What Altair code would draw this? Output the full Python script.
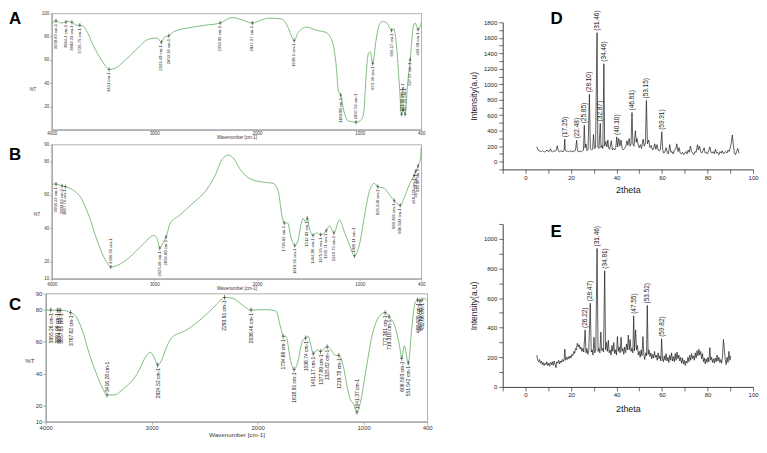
import altair as alt
import pandas as pd

# ---------------- FTIR spectra (wavenumber cm-1, %T) ----------------
A_SPECTRUM = [(4000, 91.7), (3958, 93.6), (3910, 91.7), (3861, 92.6), (3829, 93.1), (3796, 92.0),
              (3758, 89.8), (3726, 89.8), (3693, 89.0), (3651, 83.5), (3603, 73.8), (3554, 65.5),
              (3506, 58.7), (3441, 51.8), (3377, 53.1), (3280, 60.1), (3183, 68.3), (3053, 77.9),
              (2973, 78.8), (2931, 75.2), (2898, 79.9), (2859, 80.7), (2811, 84.3), (2666, 87.6),
              (2505, 89.8), (2359, 91.7), (2246, 96.4), (2149, 94.5), (2045, 91.7), (1955, 94.5),
              (1890, 95.9), (1761, 95.3), (1703, 89.0), (1665, 80.7), (1638, 76.6), (1600, 83.5),
              (1519, 88.2), (1422, 85.5), (1325, 83.5), (1260, 73.8), (1228, 54.5), (1206, 32.5),
              (1185, 29.8), (1154, 16.0), (1115, 7.7), (1035, 6.4), (980, 9.0), (960, 15.0),
              (945, 35.0), (930, 55.0), (915, 65.5), (896, 66.9), (873, 56.8), (841, 76.6),
              (809, 90.3), (776, 93.1), (734, 91.7), (689, 85.4), (669, 87.1), (637, 68.3),
              (611, 35.3), (592, 13.2), (576, 17.4), (557, 13.2), (534, 38.0), (508, 60.1),
              (479, 87.6), (460, 91.7), (431, 86.2), (400, 91.7)]
A_PEAK_WN = [3958, 3861, 3803, 3726, 3441, 2931, 2859, 2359, 2045, 1638, 1185, 1035, 873, 689, 592, 576, 557, 508, 431]
A_PEAK_T = [93.6, 92.6, 92.3, 89.8, 51.8, 75.2, 80.7, 91.7, 91.7, 76.6, 29.8, 6.4, 56.8, 85.4, 13.2, 17.4, 13.2, 60.1, 86.2]
A_PEAK_LABEL = ["3958.83 cm-1", "3864.4 cm-1", "3803.33 cm-1", "3726.75 cm-1", "3441 cm-1", "2923.40 cm-1",
                "2853.36 cm-1", "2359.09 cm-1", "2047.97 cm-1", "1638.1 cm-1", "1180.00 cm-1", "1037.52 cm-1",
                "879.36 cm-1", "696.17 cm-1", "592.49 cm-1", "576.65 cm-1", "557.24 cm-1", "527.97 cm-1",
                "433.30 cm-1"]
A_PEAK_SIDE = ["b", "b", "b", "b", "b", "b", "b", "b", "b", "b", "b", "a", "b", "b", "a", "a", "a", "b", "b"]

B_SPECTRUM = [(4000, 66.4), (3958, 66.4), (3900, 65.3), (3867, 64.9), (3796, 63.0), (3716, 58.3),
              (3635, 47.0), (3554, 32.1), (3474, 20.8), (3425, 17.0), (3360, 17.9), (3247, 22.5),
              (3118, 30.0), (3005, 35.7), (2973, 33.8), (2947, 28.2), (2918, 31.0), (2886, 34.8),
              (2844, 43.2), (2762, 47.4), (2634, 54.5), (2505, 62.0), (2408, 71.5), (2343, 80.9),
              (2278, 83.7), (2229, 81.8), (2165, 75.3), (2069, 69.6), (1955, 67.7), (1842, 66.8),
              (1793, 62.0), (1755, 47.0), (1735, 43.2), (1703, 43.2), (1665, 33.8), (1632, 29.7),
              (1600, 32.9), (1568, 43.2), (1551, 46.0), (1529, 44.1), (1510, 46.0), (1487, 39.6),
              (1454, 35.8), (1422, 37.3), (1380, 36.2), (1325, 38.6), (1293, 41.4), (1251, 37.3),
              (1196, 45.0), (1148, 37.7), (1099, 30.2), (1051, 23.6), (1003, 30.2), (954, 47.0),
              (906, 62.0), (857, 66.8), (824, 64.9), (760, 63.9), (712, 60.2), (663, 56.5),
              (605, 53.7), (566, 58.3), (518, 65.8), (470, 71.5), (431, 77.2), (405, 82.8), (400, 88.0)]
B_PEAK_WN = [3958, 3900, 3867, 3425, 2947, 2886, 1735, 1632, 1510, 1454, 1380, 1325, 1251, 1051, 824, 663, 605, 470, 455, 431]
B_PEAK_T = [66.4, 65.3, 64.9, 17.0, 28.2, 34.8, 43.2, 29.7, 46.0, 35.8, 36.2, 38.6, 37.3, 23.6, 64.9, 56.5, 53.7, 71.5, 74.0, 77.2]
B_PEAK_LABEL = ["3958.43 cm-1", "3900.66 cm-1", "3867.76 cm-1", "3396.95 cm-1", "2925.48 cm-1", "2856.80 cm-1",
                "1736.82 cm-1", "1618.91 cm-1", "1512.03 cm-1", "1464.06 cm-1", "1375.95 cm-1", "1339.71 cm-1",
                "1246.75 cm-1", "1036.11 cm-1", "829.248 cm-1", "668.366 cm-1", "606.503 cm-1", "468.725 cm-1",
                "457.13 cm-1", "432.06 cm-1"]
B_PEAK_SIDE = ["b", "b", "b", "a", "b", "b", "b", "b", "b", "b", "b", "b", "b", "a", "b", "b", "b", "b", "b", "b"]

C_SPECTRUM = [(4000, 79.7), (3953, 79.7), (3875, 79.5), (3844, 79.5), (3766, 78.1), (3719, 76.1),
              (3656, 67.2), (3594, 53.4), (3531, 41.5), (3469, 31.7), (3422, 26.7), (3359, 26.7),
              (3266, 30.6), (3141, 39.5), (3047, 51.4), (3016, 53.3), (2978, 50.4), (2944, 45.4),
              (2906, 48.4), (2884, 52.4), (2812, 62.3), (2672, 67.2), (2516, 75.1), (2391, 83.0),
              (2313, 87.6), (2234, 87.0), (2156, 83.4), (2062, 79.7), (1922, 79.9), (1828, 79.1),
              (1781, 68.2), (1759, 63.3), (1734, 63.3), (1687, 47.5), (1656, 42.6), (1625, 46.5),
              (1578, 60.3), (1547, 62.3), (1522, 63.3), (1500, 58.3), (1475, 52.4), (1438, 54.9),
              (1406, 53.8), (1375, 55.7), (1344, 56.7), (1313, 55.3), (1266, 51.4), (1234, 51.4),
              (1188, 43.5), (1156, 31.7), (1125, 23.8), (1094, 20.9), (1063, 15.9), (1031, 21.8),
              (984, 39.6), (922, 63.3), (859, 75.1), (797, 78.1), (759, 75.5), (703, 69.3),
              (656, 55.3), (641, 49.5), (616, 57.4), (578, 46.6), (547, 67.3), (515, 84.1),
              (491, 86.0), (460, 85.0), (430, 87.0), (400, 85.5)]
C_PEAK_WN = [3953, 3890, 3875, 3860, 3766, 3422, 2944, 2313, 2062, 1759, 1656, 1547, 1475, 1406, 1344, 1234,
             1063, 797, 759, 641, 578, 491, 470, 450]
C_PEAK_T = [79.7, 79.6, 79.5, 79.5, 78.1, 26.7, 45.4, 87.6, 79.7, 63.3, 42.6, 62.3, 52.4, 53.8, 56.7, 51.4,
            15.9, 78.1, 75.5, 49.5, 46.6, 86.0, 85.5, 86.0]
C_PEAK_LABEL = ["3955.26 cm-1", "3891.06 cm-1", "3874.27 cm-1", "3857.55 cm-1", "3767.62 cm-1", "3416.28 cm-1",
                "2924.52 cm-1", "2293.91 cm-1", "2036.46 cm-1", "1734.66 cm-1", "1618.91 cm-1", "1536.74 cm-1",
                "1451.17 cm-1", "1377.89 cm-1", "1325.82 cm-1", "1219.78 cm-1", "1041.37 cm-1", "772.361 cm-1",
                "719.318 cm-1", "606.503 cm-1", "551.542 cm-1", "468.025 cm-1", "457.13 cm-1", "432.06 cm-1"]
C_PEAK_SIDE = ["b", "b", "b", "b", "b", "a", "b", "b", "b", "b", "b", "b", "b", "b", "b", "b",
               "a", "b", "b", "b", "b", "b", "b", "b"]

WN_TICKS = [4000, 3000, 2000, 1000, 400]

# ---------------- XRD patterns (2theta, intensity a.u.) ----------------
D_PATTERN = [(5.0, 190), (5.5, 150), (6.0, 140), (6.5, 135), (7.0, 128), (7.5, 142), (8.0, 130), (8.5, 125),
             (9.0, 138), (9.5, 150), (10.0, 128), (10.5, 135), (11.0, 165), (11.5, 130), (12.0, 126),
             (12.5, 140), (13.0, 132), (13.5, 145), (14.0, 205), (14.5, 135), (15.0, 128), (15.5, 140),
             (16.0, 133), (16.5, 125), (17.0, 150), (17.25, 290), (17.5, 150), (18.0, 130), (18.5, 138),
             (19.0, 127), (19.5, 143), (20.0, 132), (20.5, 125), (21.0, 140), (21.5, 131), (22.0, 150),
             (22.48, 275), (22.8, 160), (23.0, 135), (23.5, 128), (24.0, 140), (24.5, 126), (25.0, 135),
             (25.5, 150), (25.85, 470), (26.2, 180), (26.6, 230), (27.0, 140), (27.5, 155), (28.1, 870),
             (28.5, 170), (29.0, 150), (29.5, 160), (29.9, 350), (30.3, 170), (30.8, 180), (31.46, 1665),
             (31.8, 190), (32.3, 170), (32.87, 495), (33.2, 180), (33.6, 210), (34.0, 170), (34.46, 1265),
             (34.8, 200), (35.3, 260), (35.8, 190), (36.2, 280), (36.6, 170), (37.0, 160), (37.7, 270),
             (38.2, 150), (38.7, 170), (39.2, 150), (39.7, 180), (40.1, 320), (40.5, 190), (41.0, 300),
             (41.5, 200), (42.0, 280), (42.5, 170), (43.0, 150), (43.5, 170), (44.0, 190), (44.6, 270),
             (45.0, 210), (45.6, 300), (46.0, 200), (46.4, 230), (46.81, 635), (47.2, 230), (47.7, 200),
             (48.3, 400), (48.7, 250), (49.0, 300), (49.5, 220), (50.0, 180), (50.5, 220), (51.0, 170),
             (51.7, 290), (52.2, 200), (52.7, 240), (53.15, 790), (53.6, 230), (54.2, 280), (54.7, 180),
             (55.3, 210), (55.8, 150), (56.3, 170), (56.8, 230), (57.3, 160), (57.8, 220), (58.3, 150),
             (58.8, 140), (59.3, 160), (59.91, 385), (60.3, 150), (60.8, 110), (61.3, 130), (61.8, 180),
             (62.3, 120), (62.8, 100), (63.4, 220), (63.9, 120), (64.4, 130), (64.9, 100), (65.4, 150),
             (66.0, 160), (66.5, 230), (67.0, 130), (67.5, 180), (68.0, 110), (68.5, 100), (69.0, 120),
             (69.5, 90), (70.0, 110), (70.5, 130), (71.0, 100), (71.5, 150), (72.0, 120), (72.5, 200),
             (73.0, 130), (73.5, 110), (74.0, 90), (74.5, 130), (75.0, 120), (75.6, 220), (76.0, 150),
             (76.5, 200), (77.0, 130), (77.5, 110), (78.0, 140), (78.5, 180), (79.0, 110), (79.5, 120),
             (80.0, 100), (80.5, 140), (81.0, 190), (81.5, 120), (82.0, 110), (82.5, 130), (83.0, 100),
             (83.5, 160), (84.0, 110), (84.5, 120), (85.0, 90), (85.5, 130), (86.0, 110), (86.5, 140),
             (87.0, 100), (87.5, 120), (88.0, 130), (88.5, 110), (89.0, 150), (89.5, 130), (90.0, 180),
             (90.5, 250), (90.9, 345), (91.3, 230), (91.8, 110), (92.3, 90), (92.8, 130), (93.3, 170),
             (93.8, 110)]
D_PEAK_TT = [17.25, 22.48, 25.85, 28.10, 31.46, 32.87, 34.46, 40.10, 46.81, 53.15, 59.91]
D_PEAK_I = [290, 275, 470, 870, 1665, 495, 1265, 320, 635, 790, 385]
D_PEAK_LABEL = ["(17.25)", "(22.48)", "(25.85)", "(28.10)", "(31.46)", "(32.87)", "(34.46)", "(40.10)",
                "(46.81)", "(53.15)", "(59.91)"]

E_PATTERN = [(5.0, 215), (5.4, 180), (5.8, 170), (6.2, 185), (6.6, 160), (7.0, 175), (7.4, 150), (7.8, 165),
             (8.2, 145), (8.6, 160), (9.0, 150), (9.4, 170), (9.8, 145), (10.2, 160), (10.6, 140), (11.0, 165),
             (11.4, 150), (11.8, 170), (12.2, 145), (12.6, 175), (13.0, 155), (13.4, 130), (13.8, 170),
             (14.2, 160), (14.6, 180), (15.0, 155), (15.4, 175), (15.8, 165), (16.2, 185), (16.6, 170),
             (17.0, 190), (17.3, 255), (17.6, 180), (18.0, 200), (18.4, 185), (18.8, 205), (19.2, 190),
             (19.6, 210), (20.0, 195), (20.4, 220), (20.8, 210), (21.2, 240), (21.6, 225), (22.0, 260),
             (22.4, 250), (22.8, 295), (23.2, 270), (23.6, 285), (24.0, 255), (24.4, 270), (24.8, 240),
             (25.2, 260), (25.6, 235), (26.22, 385), (26.6, 230), (27.0, 260), (27.4, 220), (27.8, 245),
             (28.47, 565), (28.9, 235), (29.3, 250), (29.7, 215), (30.1, 335), (30.5, 230), (30.9, 250),
             (31.46, 935), (31.9, 240), (32.3, 260), (32.7, 230), (33.1, 370), (33.5, 245), (33.9, 260),
             (34.3, 235), (34.81, 785), (35.2, 250), (35.6, 300), (36.0, 240), (36.4, 315), (36.8, 230),
             (37.2, 250), (37.6, 215), (38.0, 280), (38.4, 240), (38.8, 300), (39.2, 225), (39.6, 250),
             (40.0, 215), (40.4, 340), (40.8, 240), (41.2, 270), (41.6, 230), (42.0, 335), (42.4, 240),
             (42.8, 260), (43.2, 220), (43.6, 270), (44.0, 230), (44.4, 290), (44.8, 250), (45.2, 350),
             (45.6, 250), (46.0, 320), (46.4, 240), (46.8, 260), (47.2, 230), (47.55, 480), (47.9, 245),
             (48.4, 385), (48.8, 250), (49.2, 280), (49.6, 215), (50.0, 240), (50.4, 200), (50.8, 250),
             (51.2, 210), (51.6, 340), (52.0, 220), (52.4, 185), (52.8, 230), (53.2, 210), (53.52, 550),
             (53.9, 220), (54.3, 250), (54.7, 205), (55.1, 230), (55.5, 190), (55.9, 220), (56.3, 195),
             (56.7, 240), (57.1, 200), (57.5, 215), (57.9, 180), (58.3, 230), (58.7, 190), (59.1, 210),
             (59.5, 175), (59.82, 325), (60.2, 190), (60.6, 170), (61.0, 210), (61.4, 180), (61.8, 225),
             (62.2, 175), (62.6, 200), (63.0, 165), (63.4, 215), (63.8, 180), (64.2, 230), (64.6, 175),
             (65.0, 205), (65.4, 170), (65.8, 225), (66.2, 180), (66.6, 235), (67.0, 190), (67.4, 215),
             (67.8, 175), (68.2, 200), (68.6, 160), (69.0, 195), (69.4, 155), (69.8, 180), (70.2, 145),
             (70.6, 175), (71.0, 160), (71.4, 200), (71.8, 170), (72.2, 215), (72.6, 180), (73.0, 225),
             (73.4, 190), (73.8, 210), (74.2, 180), (74.6, 230), (75.0, 195), (75.4, 245), (75.8, 210),
             (76.2, 255), (76.6, 215), (77.0, 240), (77.4, 190), (77.8, 225), (78.2, 170), (78.6, 195),
             (79.0, 155), (79.4, 190), (79.8, 165), (80.2, 200), (80.6, 170), (81.0, 265), (81.4, 180),
             (81.8, 200), (82.2, 165), (82.6, 190), (83.0, 160), (83.4, 195), (83.8, 170), (84.2, 215),
             (84.6, 175), (85.0, 200), (85.4, 165), (85.8, 185), (86.2, 160), (86.6, 210), (87.0, 320),
             (87.4, 250), (87.8, 185), (88.2, 150), (88.6, 200), (89.0, 165), (89.4, 240), (89.8, 180),
             (90.2, 210)]
E_PEAK_TT = [26.22, 28.47, 31.46, 34.81, 47.55, 53.52, 59.82]
E_PEAK_I = [385, 565, 935, 785, 480, 550, 325]
E_PEAK_LABEL = ["(26.22)", "(28.47)", "(31.46)", "(34.81)", "(47.55)", "(53.52)", "(59.82)"]

FONT = "Liberation Sans"
GREEN = "#5fae5f"
AXGRAY = "#8a8a8a"
TXT = "#3a3a3a"
PLUS = "M0,-1L0,1M-0.6,0L0.6,0"


def letter_layer(ch, x, y):
    return alt.Chart(pd.DataFrame({"k": [ch]})).mark_text(
        align="left", baseline="alphabetic", fontSize=17, fontWeight="bold", font=FONT, color="black"
    ).encode(x=alt.value(x), y=alt.value(y), text="k:N")


def ftir_panel(letter, spectrum, pk_wn, pk_t, pk_lab, pk_side, ydom, yvals, width, height,
               fs_tick, fs_title, fs_peak, tsize, lpad, x_title_y, pct_x, pct_y, let_x, let_y, msize):
    df = pd.DataFrame({"wn": [p[0] for p in spectrum], "T": [p[1] for p in spectrum],
                       "i": list(range(len(spectrum)))})
    pk = pd.DataFrame({"wn": pk_wn, "T": pk_t, "lab": pk_lab, "side": pk_side})
    xs = alt.Scale(domain=[4000, 400], nice=False, zero=False)
    ys = alt.Scale(domain=ydom, nice=False, zero=False)
    xax = alt.Axis(values=WN_TICKS, format="d", title="Wavenumber [cm-1]", labelFontSize=fs_tick,
                   titleFontSize=fs_title, titleFontWeight="normal", tickSize=tsize, labelPadding=lpad,
                   labelFlush=False, labelOverlap=False, grid=False, domainColor=AXGRAY, tickColor=AXGRAY,
                   labelColor=TXT, titleColor=TXT, titleY=x_title_y, titleBaseline="middle",
                   tickWidth=0.6, domainWidth=0.8, labelFont=FONT, titleFont=FONT)
    yax = alt.Axis(values=yvals, format="d", title="%T", titleAngle=0, titleX=pct_x, titleY=pct_y,
                   titleAlign="center", titleBaseline="middle", titleFontSize=fs_title,
                   titleFontWeight="normal", labelFontSize=fs_tick, tickSize=max(tsize, 2), labelPadding=1,
                   labelFlush=False, labelOverlap=False, grid=False, domainColor=AXGRAY, tickColor=AXGRAY,
                   labelColor=TXT, titleColor=TXT, tickWidth=0.6, domainWidth=0.8,
                   labelFont=FONT, titleFont=FONT)
    x = alt.X("wn:Q", scale=xs, axis=xax)
    y = alt.Y("T:Q", scale=ys, axis=yax)
    line = alt.Chart(df).mark_line(color=GREEN, strokeWidth=0.8, interpolate="monotone").encode(
        x=x, y=y, order="i:Q")
    marks = alt.Chart(pk).mark_point(shape=PLUS, size=msize, filled=False, stroke="#333",
                                     strokeWidth=0.6, opacity=1).encode(x=x, y=y)
    below = alt.Chart(pk).transform_filter(alt.datum.side == "b").mark_text(
        angle=270, align="right", baseline="middle", dx=-3, fontSize=fs_peak, font=FONT, color="#222"
    ).encode(x=x, y=y, text="lab:N")
    above = alt.Chart(pk).transform_filter(alt.datum.side == "a").mark_text(
        angle=270, align="left", baseline="middle", dx=3, fontSize=fs_peak, font=FONT, color="#222"
    ).encode(x=x, y=y, text="lab:N")
    return alt.layer(line, marks, below, above, letter_layer(letter, let_x, let_y)).properties(
        width=width, height=height, view=alt.ViewBackground(stroke="#9a9a9a", strokeWidth=0.8))


def xrd_panel(letter, pattern, pk_x, pk_y, pk_lab, ydom, width, height, x_title_y, let_x, let_y):
    df = pd.DataFrame({"tt": [p[0] for p in pattern], "I": [p[1] for p in pattern]})
    pk = pd.DataFrame({"tt": pk_x, "I": pk_y, "lab": pk_lab})
    xs = alt.Scale(domain=[-10, 100], nice=False, zero=False)
    ys = alt.Scale(domain=ydom, nice=False, zero=False)
    xax = alt.Axis(values=list(range(-10, 101, 10)), format="d",
                   labelExpr="datum.value % 20 == 0 ? datum.label : ''",
                   title="2theta", titleFontSize=9, titleFontWeight="normal", titleY=x_title_y,
                   titleBaseline="middle", labelFontSize=6, tickSize=4, labelPadding=1,
                   labelFlush=False, labelOverlap=False, grid=False, domainColor="#111", tickColor="#111",
                   labelColor="#222", titleColor="#222", tickWidth=0.6, domainWidth=0.8,
                   labelFont=FONT, titleFont=FONT)
    yax = alt.Axis(values=list(range(ydom[0], ydom[1] + 1, 100)), format="d",
                   labelExpr="datum.value % 200 == 0 && datum.value >= 0 ? datum.label : ''",
                   title="Intensity(a.u)", titleFontSize=8.5, titleFontWeight="normal",
                   titleAngle=270, titleX=-29, titleY=height / 2, titleAlign="center",
                   titleBaseline="middle", labelFontSize=6, tickSize=4, labelPadding=2,
                   labelOverlap=False, labelFlush=False, grid=False, domainColor="#111", tickColor="#111",
                   labelColor="#222", titleColor="#222", tickWidth=0.6, domainWidth=0.8,
                   labelFont=FONT, titleFont=FONT)
    x = alt.X("tt:Q", scale=xs, axis=xax)
    y = alt.Y("I:Q", scale=ys, axis=yax)
    line = alt.Chart(df).mark_line(color="#1a1a1a", strokeWidth=0.7).encode(x=x, y=y)
    labs = alt.Chart(pk).mark_text(angle=270, align="left", baseline="middle", dx=2, fontSize=6.5,
                                   font=FONT, color="#222").encode(x=x, y=y, text="lab:N")
    return alt.layer(line, labs, letter_layer(letter, let_x, let_y)).properties(
        width=width, height=height, view=alt.ViewBackground(strokeOpacity=0))


A = ftir_panel("A", A_SPECTRUM, A_PEAK_WN, A_PEAK_T, A_PEAK_LABEL, A_PEAK_SIDE, [0, 100],
               [20, 40, 60, 80, 100], 372, 117, 4.5, 4.5, 4.2, 1, 0, 8.2, -19.5, 77, -43, 11, 18)
B = ftir_panel("B", B_SPECTRUM, B_PEAK_WN, B_PEAK_T, B_PEAK_LABEL, B_PEAK_SIDE, [10, 90],
               [10, 20, 40, 60, 80, 90], 372, 135, 4.5, 4.5, 4.2, 2, 1, 10, -15.5, 70, -43, 16, 18)
C = ftir_panel("C", C_SPECTRUM, C_PEAK_WN, C_PEAK_T, C_PEAK_LABEL, C_PEAK_SIDE, [10, 90],
               [10, 20, 40, 60, 80, 90], 384, 129, 6, 6.3, 5, 3, 0, 12.6, -16.5, 67, -37, 17, 26)

D = xrd_panel("D", D_PATTERN, D_PEAK_TT, D_PEAK_I, D_PEAK_LABEL, [-100, 1800], 252, 148, 20, 48, 2)
E = xrd_panel("E", E_PATTERN, E_PEAK_TT, E_PEAK_I, E_PEAK_LABEL, [0, 1100], 252, 164, 22, 48, 13)

spacer = alt.Chart(pd.DataFrame({"k": [0]})).mark_point(opacity=0).properties(
    width=252, height=9, view=alt.ViewBackground(strokeOpacity=0))

left = alt.vconcat(A, B, C, spacing=15, center=True, bounds="flush")
right = alt.vconcat(spacer, alt.vconcat(D, E, spacing=55, bounds="flush"), spacing=0, bounds="flush")

chart = alt.hconcat(left, right, spacing=37).properties(
    padding=0, background="white"
).configure(font=FONT).configure_view(stroke=None)

chart.save("out.html", embed_options={"renderer": "svg", "actions": False})
